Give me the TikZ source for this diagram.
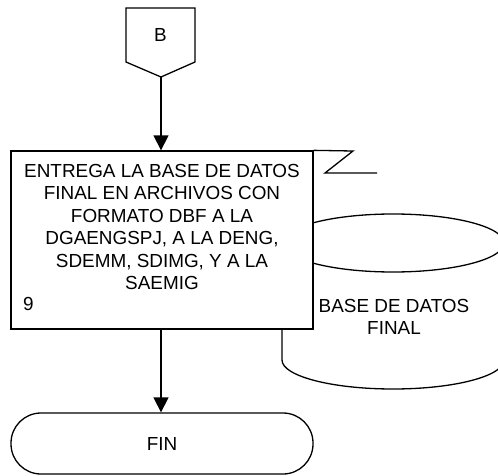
\documentclass[tikz,border=0pt]{standalone}
\usepackage{fontspec}
\setmainfont{Liberation Sans}
\usetikzlibrary{arrows.meta}
\begin{document}
\begin{tikzpicture}[x=1pt,y=1pt,
  every node/.style={font=\fontsize{18.9}{22.4}\selectfont, inner sep=0pt},
  ln/.style={line width=1.3pt, line join=miter},
  arr/.style={ln, -{Triangle[length=15pt,width=15pt]}},
  procbox/.style={ln, draw, fill=white, rectangle, minimum width=302pt, minimum height=178pt},
  term/.style={ln, draw, fill=white, rounded corners=30pt, minimum width=302pt, minimum height=61pt}
]
\useasboundingbox (0,0) rectangle (498,475);
\clip (0,0) rectangle (498,475);

% off-page connector B
\draw[ln, fill=white] (126,467) -- (195,467) -- (195,413) -- (161,398) -- (126,413) -- cycle;
\node (b) at (160.5,440.5) {B};
\coordinate (bbot) at (161,398);

% database cylinder
\draw[ln] (282,232) -- (282,115) arc[start angle=180, end angle=360, x radius=111, y radius=29] -- (504,232);
\draw[ln, fill=white] (393,232) ellipse[x radius=111, y radius=29];
\node[align=center] (db) at (394,158) {BASE DE DATOS\\FINAL};

% process box
\node[procbox] (box) at (162,235) {};
\node[align=center] (boxtext) at (162,248) {ENTREGA LA BASE DE DATOS\\FINAL EN ARCHIVOS CON\\FORMATO DBF A LA\\DGAENGSPJ, A LA DENG,\\SDEMM, SDIMG, Y A LA\\SAEMIG};
\node[anchor=west] (num) at (23,171) {9};

% flow annotation line
\coordinate (z1) at (353,324);
\coordinate (z2) at (325,302);
\coordinate (z3) at (377,302);
\draw[ln] (box.north east) -- (z1) -- (z2) -- (z3);

% terminal
\node[term] (fin) at (162,31.5) {FIN};

% connectors
\draw[arr] (bbot) -- (bbot |- box.north);
\draw[arr] (box.south -| bbot) -- (bbot |- fin.north);
\end{tikzpicture}
\end{document}
